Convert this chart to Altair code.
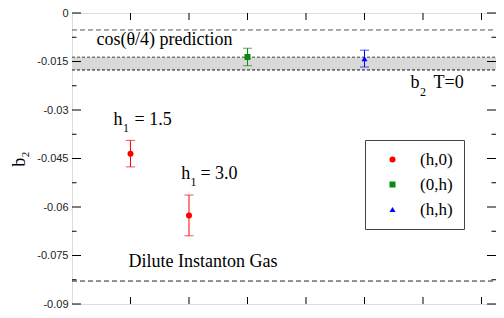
import altair as alt
import pandas as pd

# ---------------- data ----------------
series = ["(h,0)", "(h,0)", "(0,h)", "(h,h)"]
x_vals = [0.5, 1.0, 1.5, 2.5]
b2_vals = [-0.0435, -0.0626, -0.0136, -0.0141]
b2_errs = [0.0041, 0.0063, 0.0027, 0.0026]

legend_order = ["(h,0)", "(0,h)", "(h,h)"]

cos_pred = [-0.00525]
t0_band_lo = [-0.01762]
t0_band_hi = [-0.01366]
dig = [-0.0829]

x_ticks = [0.5, 1.0, 1.5, 2.0, 2.5, 3.0, 3.5]
y_major = [0, -0.015, -0.03, -0.045, -0.06, -0.075, -0.09]
y_minor = [-0.0075, -0.0225, -0.0375, -0.0525, -0.0675, -0.0825]

ann_text = ["cos(θ/4) prediction", "Dilute Instanton Gas", "h", "= 1.5",
            "h", "= 3.0", "b", "T=0"]
ann_x = [0.209, 0.483, 0.355, 0.534, 0.933, 1.098, 2.893, 3.09]
ann_y = [-0.0098, -0.0785, -0.03475, -0.03475, -0.0514, -0.0514,
         -0.02317, -0.02317]
sub_text = ["1", "1", "2"]
sub_x = [0.436, 1.013, 2.974]
sub_y = [-0.0368, -0.0535, -0.02554]

# ---------------- styles ----------------
W, H = 424, 291
colors = {"(h,0)": "#ff0000", "(0,h)": "#0a8a0a", "(h,h)": "#0000ff"}
shapes = ["circle", "square", "triangle-up"]
SERIF = "Liberation Serif"

X = alt.Scale(domain=[0, 3.624], nice=False, zero=False)
Y = alt.Scale(domain=[-0.09, 0], nice=False, zero=False)

yaxis = alt.Axis(values=y_major, ticks=False, grid=False, domain=False,
                 labelExpr="replace(format(datum.value, '~g'), '\u2212', '-')",
                 labelFont="Liberation Sans", labelFontSize=11, labelColor="#222",
                 labelPadding=4, labelFlush=False,
                 title="b\u2082", titleFont=SERIF, titleFontSize=18,
                 titleFontWeight="normal", titleColor="black", titlePadding=8)


def xq(f):
    return alt.X(f, type="quantitative", scale=X, axis=None)


def yq(f):
    return alt.Y(f, type="quantitative", scale=Y, axis=yaxis)


pts = pd.DataFrame({"series": series, "x": x_vals, "b2": b2_vals, "err": b2_errs})
pts["lo"] = pts["b2"] - pts["err"]
pts["hi"] = pts["b2"] + pts["err"]

band = alt.Chart(pd.DataFrame({"lo": t0_band_lo, "hi": t0_band_hi})).mark_rect(
    color="#d9d9d9").encode(y=yq("lo"), y2="hi", x=alt.value(0), x2=alt.value(W))


def hline(vals, color, dash):
    return alt.Chart(pd.DataFrame({"v": vals})).mark_rule(
        color=color, strokeWidth=1, strokeDash=dash).encode(
        y=yq("v"), x=alt.value(0), x2=alt.value(W))


lines = [
    hline(cos_pred, "#555555", [5, 3]),
    hline(t0_band_hi, "#444444", [3, 2]),
    hline(t0_band_lo, "#111111", [3, 2]),
    hline(dig, "#222222", [5, 3]),
]


def yticks(vals, length):
    d = pd.DataFrame({"v": vals})
    left = alt.Chart(d).mark_rule(color="black", strokeWidth=1).encode(
        y=yq("v"), x=alt.value(0), x2=alt.value(length))
    right = alt.Chart(d).mark_rule(color="black", strokeWidth=1).encode(
        y=yq("v"), x=alt.value(W - length), x2=alt.value(W))
    return [left, right]


dx = pd.DataFrame({"v": x_ticks})
xt_bottom = alt.Chart(dx).mark_rule(color="black", strokeWidth=1).encode(
    x=xq("v"), y=alt.value(H), y2=alt.value(H - 7))
xt_top = alt.Chart(dx).mark_rule(color="black", strokeWidth=1).encode(
    x=xq("v"), y=alt.value(0), y2=alt.value(7))

err_layers = []
for s in legend_order:
    base = alt.Chart(pts).transform_filter(alt.datum.series == s)
    err_layers.append(base.mark_rule(color=colors[s], strokeWidth=1).encode(
        x=xq("x"), y=yq("lo"), y2="hi"))
    err_layers.append(base.transform_fold(["lo", "hi"], as_=["k", "v"]).mark_tick(
        orient="horizontal", size=9, thickness=1, color=colors[s]).encode(
        x=xq("x"), y=yq("v")))

leg = alt.Legend(title=None, orient="none", legendX=293, legendY=127,
                 padding=11, rowPadding=7, symbolSize=36, symbolOffset=8,
                 labelOffset=19, labelFont=SERIF, labelFontSize=17,
                 labelColor="black", strokeColor="#444444", fillColor="white",
                 symbolStrokeWidth=0, labelExpr="datum.label + '  '")

points = alt.Chart(pts).mark_point(filled=True, size=36, opacity=1).encode(
    x=xq("x"), y=yq("b2"),
    color=alt.Color("series:N", scale=alt.Scale(domain=legend_order,
                    range=[colors[s] for s in legend_order]), legend=leg),
    shape=alt.Shape("series:N", scale=alt.Scale(domain=legend_order, range=shapes),
                    legend=leg))

ann = alt.Chart(pd.DataFrame({"t": ann_text, "x": ann_x, "y": ann_y})).mark_text(
    align="left", baseline="alphabetic", font=SERIF, fontSize=18, color="black").encode(
    x=xq("x"), y=yq("y"), text="t:N")
sub = alt.Chart(pd.DataFrame({"t": sub_text, "x": sub_x, "y": sub_y})).mark_text(
    align="left", baseline="alphabetic", font=SERIF, fontSize=12, color="black").encode(
    x=xq("x"), y=yq("y"), text="t:N")

chart = alt.layer(
    band, *lines, *yticks(y_major, 9), *yticks(y_minor, 4.5), xt_bottom, xt_top,
    *err_layers, points, ann, sub
).properties(
    width=W, height=H,
    autosize=alt.AutoSizeParams(type="none"),
    padding={"left": 64, "top": 5, "right": 0, "bottom": 6},
).configure_view(stroke="black", strokeWidth=1.2).configure(background="white")

chart.save("out.html", embed_options={"renderer": "svg", "actions": False})
